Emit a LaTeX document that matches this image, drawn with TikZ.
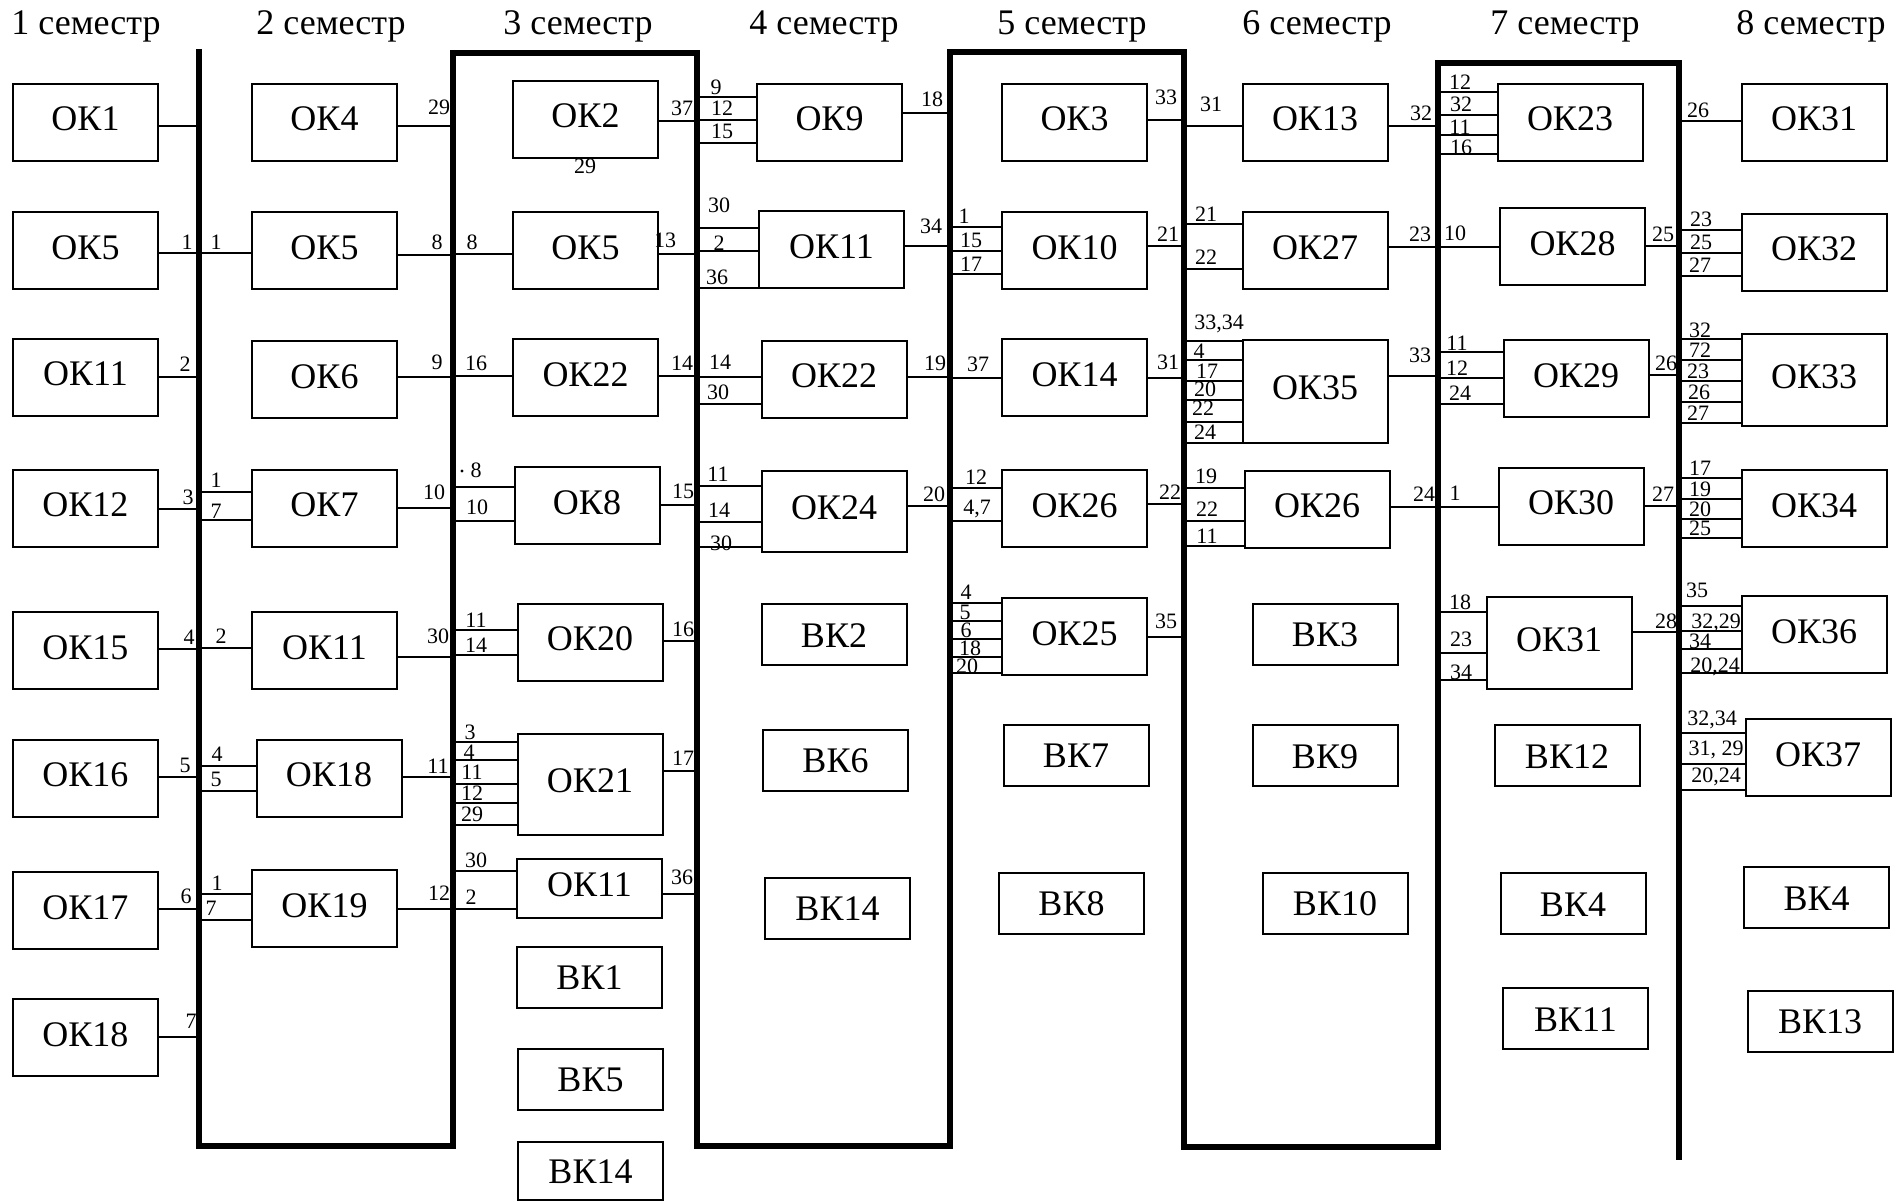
\documentclass[tikz,border=0pt]{standalone}
\usepackage{fontspec}
\setmainfont{Liberation Serif}
\tikzset{
  okbox/.style={draw,line width=1pt,minimum width=72.5pt,minimum height=38.5pt,inner sep=0pt,text height=12.2pt,text depth=4pt,font=\fontsize{18}{20}\selectfont},
  vkbox/.style={okbox,minimum height=30.5pt,text depth=0pt},
  head/.style={anchor=base,inner sep=0pt,font=\fontsize{18}{20}\selectfont},
  num/.style={inner sep=0pt,text height=7.4pt,text depth=0pt,font=\fontsize{11}{12}\selectfont},
  wire/.style={line width=1.2pt},
  semline/.style={line width=2.6pt,line join=miter}
}
\begin{document}
\begin{tikzpicture}[x=0.5pt,y=-0.5pt]
    \useasboundingbox (0,0) rectangle (1903,1202);

    % semester headings
    \node[head] (h1) at (86,35) {1 семестр};
    \node[head] (h2) at (331,35) {2 семестр};
    \node[head] (h3) at (578,35) {3 семестр};
    \node[head] (h4) at (824,35) {4 семестр};
    \node[head] (h5) at (1072,35) {5 семестр};
    \node[head] (h6) at (1317,35) {6 семестр};
    \node[head] (h7) at (1565,35) {7 семестр};
    \node[head] (h8) at (1811,35) {8 семестр};

    % thick semester borders
    \coordinate (barA) at (199,0);
    \coordinate (barB) at (453,0);
    \coordinate (barC) at (697,0);
    \coordinate (barD) at (950,0);
    \coordinate (barE) at (1184,0);
    \coordinate (barF) at (1438,0);
    \coordinate (barG) at (1679,0);
    \draw[semline] (barA |- 0,49) -- (barA |- 0,1146) -| (barB |- 0,53) -| (barC |- 0,1146)
      -| (barD |- 0,52) -| (barE |- 0,1147) -| (barF |- 0,63) -| (barG |- 0,1160);

    % 1 семестр
    \node[okbox] (s1ok1) at (85.5,122.5) {ОК1};
    \node[okbox] (s1ok5) at (85.5,251) {ОК5};
    \node[okbox] (s1ok11) at (85.5,377.5) {ОК11};
    \node[okbox] (s1ok12) at (85.5,508.5) {ОК12};
    \node[okbox] (s1ok15) at (85.5,651) {ОК15};
    \node[okbox] (s1ok16) at (85.5,778.5) {ОК16};
    \node[okbox] (s1ok17) at (85.5,911) {ОК17};
    \node[okbox] (s1ok18) at (85.5,1038) {ОК18};

    % 2 семестр
    \node[okbox] (s2ok4) at (324.5,122.5) {ОК4};
    \node[okbox] (s2ok5) at (324.5,251) {ОК5};
    \node[okbox] (s2ok6) at (324.5,380) {ОК6};
    \node[okbox] (s2ok7) at (324.5,508.5) {ОК7};
    \node[okbox] (s2ok11) at (324.5,651) {ОК11};
    \node[okbox] (s2ok18) at (329,778.5) {ОК18};
    \node[okbox] (s2ok19) at (324.5,909) {ОК19};

    % 3 семестр
    \node[okbox] (s3ok2) at (585.5,119.5) {ОК2};
    \node[okbox] (s3ok5) at (585.5,251) {ОК5};
    \node[okbox] (s3ok22) at (585.5,378) {ОК22};
    \node[okbox] (s3ok8) at (587,506) {ОК8};
    \node[okbox] (s3ok20) at (590,642.5) {ОК20};
    \node[okbox,minimum height=50.5pt] (s3ok21) at (590,784.5) {ОК21};
    \node[okbox,minimum height=29.5pt] (s3ok11) at (589.5,888.5) {ОК11};
    \node[vkbox] (s3vk1) at (589.5,977.5) {ВК1};
    \node[vkbox] (s3vk5) at (590.5,1079.5) {ВК5};
    \node[vkbox,minimum height=29pt] (s3vk14) at (590.5,1171) {ВК14};

    % 4 семестр
    \node[okbox] (s4ok9) at (829.5,122.5) {ОК9};
    \node[okbox] (s4ok11) at (831.5,250) {ОК11};
    \node[okbox] (s4ok22) at (834,379.5) {ОК22};
    \node[okbox,minimum height=40.5pt] (s4ok24) at (834,511.5) {ОК24};
    \node[vkbox] (s4vk2) at (834,635) {ВК2};
    \node[vkbox] (s4vk6) at (835.5,760.5) {ВК6};
    \node[vkbox] (s4vk14) at (837.5,908.5) {ВК14};

    % 5 семестр
    \node[okbox] (s5ok3) at (1074.5,122.5) {ОК3};
    \node[okbox] (s5ok10) at (1074.5,251) {ОК10};
    \node[okbox] (s5ok14) at (1074.5,378) {ОК14};
    \node[okbox] (s5ok26) at (1074.5,509) {ОК26};
    \node[okbox] (s5ok25) at (1074.5,637) {ОК25};
    \node[vkbox] (s5vk7) at (1076,755.5) {ВК7};
    \node[vkbox] (s5vk8) at (1071.5,903.5) {ВК8};

    % 6 семестр
    \node[okbox] (s6ok13) at (1315,122.5) {ОК13};
    \node[okbox] (s6ok27) at (1315,251) {ОК27};
    \node[okbox,minimum height=51.5pt] (s6ok35) at (1315,391.5) {ОК35};
    \node[okbox] (s6ok26) at (1317,509.5) {ОК26};
    \node[vkbox] (s6vk3) at (1325,634.5) {ВК3};
    \node[vkbox] (s6vk9) at (1325,756) {ВК9};
    \node[vkbox] (s6vk10) at (1335,903.5) {ВК10};

    % 7 семестр
    \node[okbox] (s7ok23) at (1570,122.5) {ОК23};
    \node[okbox] (s7ok28) at (1572.5,247) {ОК28};
    \node[okbox] (s7ok29) at (1576,379) {ОК29};
    \node[okbox] (s7ok30) at (1571,506.5) {ОК30};
    \node[okbox,minimum height=46pt] (s7ok31) at (1559,643) {ОК31};
    \node[vkbox] (s7vk12) at (1567,756) {ВК12};
    \node[vkbox] (s7vk4) at (1573,904) {ВК4};
    \node[vkbox] (s7vk11) at (1575.5,1019) {ВК11};

    % 8 семестр
    \node[okbox] (s8ok31) at (1814,122.5) {ОК31};
    \node[okbox] (s8ok32) at (1814,252.5) {ОК32};
    \node[okbox,minimum height=46pt] (s8ok33) at (1814,380) {ОК33};
    \node[okbox] (s8ok34) at (1814,509) {ОК34};
    \node[okbox] (s8ok36) at (1814,635) {ОК36};
    \node[okbox] (s8ok37) at (1818,758) {ОК37};
    \node[vkbox] (s8vk4) at (1816.5,898) {ВК4};
    \node[vkbox] (s8vk13) at (1820,1021.5) {ВК13};

    % links to the borders
    \foreach \nd/\yy in {s1ok1/126,s1ok5/253,s1ok11/377,s1ok12/509,s1ok15/649,s1ok16/777,s1ok17/909,s1ok18/1037}
      \draw[wire] (\nd.east |- 0,\yy) -- (barA |- 0,\yy);
    \foreach \nd/\yy in {s2ok5/253,s2ok7/492,s2ok7/520,s2ok11/648,s2ok18/766,s2ok18/791,s2ok19/894,s2ok19/920}
      \draw[wire] (barA |- 0,\yy) -- (\nd.west |- 0,\yy);
    \foreach \nd/\yy in {s2ok4/126,s2ok5/255,s2ok6/377,s2ok7/508,s2ok11/657,s2ok18/777,s2ok19/909}
      \draw[wire] (\nd.east |- 0,\yy) -- (barB |- 0,\yy);
    \foreach \nd/\yy in {s3ok5/254,s3ok22/376,s3ok8/487,s3ok8/521,s3ok20/630,s3ok20/655,s3ok21/742,s3ok21/760,
        s3ok21/784,s3ok21/803,s3ok21/825,s3ok11/871,s3ok11/909}
      \draw[wire] (barB |- 0,\yy) -- (\nd.west |- 0,\yy);
    \foreach \nd/\yy in {s3ok2/121,s3ok5/254,s3ok22/376,s3ok8/505,s3ok20/641,s3ok21/771,s3ok11/894}
      \draw[wire] (\nd.east |- 0,\yy) -- (barC |- 0,\yy);
    \foreach \nd/\yy in {s4ok9/97,s4ok9/120,s4ok9/143,s4ok11/228,s4ok11/251,s4ok11/288,s4ok22/377,s4ok22/404,
        s4ok24/486,s4ok24/522,s4ok24/547}
      \draw[wire] (barC |- 0,\yy) -- (\nd.west |- 0,\yy);
    \foreach \nd/\yy in {s4ok9/113,s4ok11/246,s4ok22/377,s4ok24/506}
      \draw[wire] (\nd.east |- 0,\yy) -- (barD |- 0,\yy);
    \foreach \nd/\yy in {s5ok10/227,s5ok10/251,s5ok10/274,s5ok14/378,s5ok26/488,s5ok26/521,s5ok25/603,s5ok25/621,
        s5ok25/639,s5ok25/657,s5ok25/673}
      \draw[wire] (barD |- 0,\yy) -- (\nd.west |- 0,\yy);
    \foreach \nd/\yy in {s5ok3/120,s5ok10/246,s5ok14/378,s5ok26/504,s5ok25/637}
      \draw[wire] (\nd.east |- 0,\yy) -- (barE |- 0,\yy);
    \foreach \nd/\yy in {s6ok13/126,s6ok27/224,s6ok27/269,s6ok35/341,s6ok35/360,s6ok35/381,s6ok35/400,s6ok35/422,
        s6ok35/443,s6ok26/488,s6ok26/521,s6ok26/546}
      \draw[wire] (barE |- 0,\yy) -- (\nd.west |- 0,\yy);
    \foreach \nd/\yy in {s6ok13/126,s6ok27/247,s6ok35/376,s6ok26/507}
      \draw[wire] (\nd.east |- 0,\yy) -- (barF |- 0,\yy);
    \foreach \nd/\yy in {s7ok23/92,s7ok23/115,s7ok23/135,s7ok23/154,s7ok28/247,s7ok29/352,s7ok29/378,s7ok29/404,
        s7ok30/507,s7ok31/612,s7ok31/653,s7ok31/680}
      \draw[wire] (barF |- 0,\yy) -- (\nd.west |- 0,\yy);
    \foreach \nd/\yy in {s7ok28/246,s7ok29/375,s7ok30/506,s7ok31/632}
      \draw[wire] (\nd.east |- 0,\yy) -- (barG |- 0,\yy);
    \foreach \nd/\yy in {s8ok31/121,s8ok32/230,s8ok32/253,s8ok32/276,s8ok33/339,s8ok33/360,s8ok33/381,s8ok33/402,
        s8ok33/423,s8ok34/478,s8ok34/499,s8ok34/519,s8ok34/538,s8ok36/606,s8ok36/631,s8ok36/649,s8ok36/673,
        s8ok37/733,s8ok37/764,s8ok37/790}
      \draw[wire] (barG |- 0,\yy) -- (\nd.west |- 0,\yy);

    % link numbers
    \foreach \xx/\yy/\txt [count=\i] in {
        187/242/1, 185/364/2, 188/497/3, 189/637/4, 185/765/5, 186/896/6, 191/1021/7,
        216/242/1, 216/480/1, 216/511/7, 221/636/2, 217/754/4, 216/779/5, 217/883/1, 211/908/7,
        439/107/29, 437/242/8, 437/362/9, 434/492/10, 438/636/30, 438/766/11, 439/893/12,
        472/242/8, 476/363/16, 476/470/8, 477/507/10, 476/620/11, 476/645/14, 470/732/3, 469/752/4,
        472/772/11, 472/793/12, 472/814/29, 476/860/30, 471/897/2,
        682/108/37, 665/240/13, 682/363/14, 683/491/15, 683/629/16, 683/758/17, 682/877/36, 585/166/29,
        716/87/9, 722/108/12, 722/131/15, 719/205/30, 719/243/2, 717/277/36, 720/362/14, 718/392/30,
        718/474/11, 719/510/14, 721/543/30,
        932/99/18, 931/226/34, 935/363/19, 934/494/20,
        964/216/1, 971/240/15, 971/264/17, 978/364/37, 976/477/12, 977/507/{4,7}, 966/592/4, 965/612/5,
        966/630/6, 970/648/18, 967/666/20,
        1166/97/33, 1168/234/21, 1168/362/31, 1170/492/22, 1166/621/35,
        1211/104/31, 1206/214/21, 1206/257/22, 1219/322/{33,34}, 1199/351/4, 1207/371/17, 1205/389/20,
        1203/408/22, 1205/432/24, 1206/476/19, 1207/509/22, 1207/536/11,
        1421/113/32, 1420/234/23, 1420/355/33, 1424/494/24,
        1460/82/12, 1461/104/32, 1460/127/11, 1461/147/16, 1455/233/10, 1457/343/11, 1457/368/12,
        1460/393/24, 1455/493/1, 1460/602/18, 1461/639/23, 1461/672/34,
        1663/234/25, 1666/363/26, 1663/494/27, 1666/621/28,
        1698/110/26, 1701/219/23, 1701/242/25, 1700/265/27, 1700/330/32, 1700/350/72, 1698/371/23,
        1699/392/26, 1698/413/27, 1700/468/17, 1700/489/19, 1700/509/20, 1700/528/25, 1697/590/35,
        1716/621/{32,29}, 1700/641/34, 1715/665/{20,24}, 1712/718/{32,34}, 1716/748/{31, 29}, 1716/775/{20,24}}
      \node[num] (lab\i) at (\xx,\yy) {\txt};
    \fill (462,471) circle (0.8pt);
\end{tikzpicture}
\end{document}
